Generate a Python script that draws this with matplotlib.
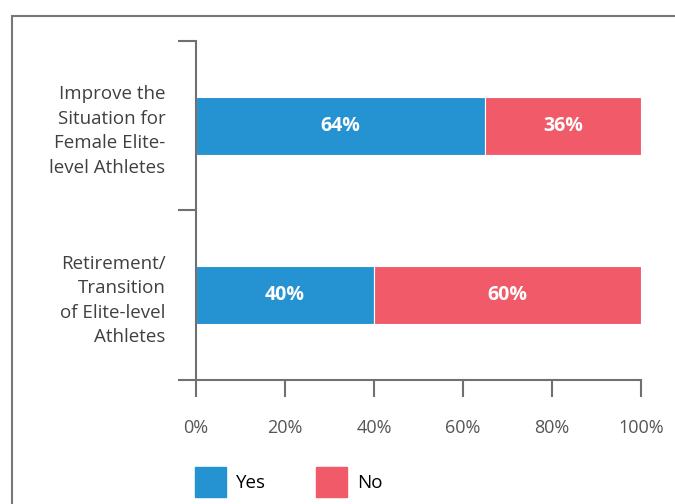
import matplotlib.pyplot as plt
from matplotlib.patches import Patch, Rectangle

categories = ['Improve the\nSituation for\nFemale Elite-\nlevel Athletes',
              'Retirement/\nTransition\nof Elite-level\nAthletes']
yes = [65, 40]
no = [35, 60]
yes_labels = ['64%', '40%']
no_labels = ['36%', '60%']
x_ticks = [0, 20, 40, 60, 80, 100]

blue = '#2592d2'
red = '#f05a69'
axis_grey = '#707070'

plt.rcParams['font.family'] = ['Open Sans', 'DejaVu Sans']

fig = plt.figure(figsize=(6.75, 5.04), dpi=100)
ax = fig.add_axes([196 / 675, 1 - 380 / 504, 445 / 675, 339 / 504])

pos = list(range(len(categories)))
ax.barh(pos, yes, height=0.34, color=blue, edgecolor='white', linewidth=0.8)
ax.barh(pos, no, left=yes, height=0.34, color=red, edgecolor='white', linewidth=0.8)

for i in pos:
    ax.text(yes[i] / 2, i, yes_labels[i], ha='center', va='center',
            color='white', fontsize=14, fontweight='bold')
    ax.text(yes[i] + no[i] / 2, i, no_labels[i], ha='center', va='center',
            color='white', fontsize=14, fontweight='bold')

ax.set_xlim(0, 100)
ax.set_ylim(1.5, -0.5)
ax.set_xticks(x_ticks)
ax.set_xticklabels([f'{t}%' for t in x_ticks])
ax.set_yticks([-0.5, 0.5, 1.5])
ax.set_yticklabels([])
ax.set_yticks(pos, minor=True)
ax.set_yticklabels(categories, minor=True, fontsize=13.5, color='#404040',
                   linespacing=1.47)

for side in ['top', 'right']:
    ax.spines[side].set_visible(False)
for side in ['left', 'bottom']:
    ax.spines[side].set_color(axis_grey)
    ax.spines[side].set_linewidth(1.5)

ax.tick_params(axis='x', length=12, width=1.5, color=axis_grey, pad=16,
               labelsize=13, labelcolor='#555555')
ax.tick_params(axis='y', which='major', length=13, width=1.5, color=axis_grey)
ax.tick_params(axis='y', which='minor', length=0, pad=22)

# outer frame, cut off at right and bottom
fig.add_artist(Rectangle((12 / 675, -0.1), 1.2, 1.1 - 16 / 504,
                         transform=fig.transFigure, fill=False,
                         edgecolor='#777777', linewidth=1.5))

handles = [Patch(color=blue, label='Yes'), Patch(color=red, label='No')]
fig.legend(handles=handles, loc='lower left',
           bbox_to_anchor=(195 / 675, 1 - 497 / 504), ncol=2, frameon=False,
           fontsize=13.5, handlelength=1.65, handleheight=2.1,
           handletextpad=0.55, columnspacing=2.67, borderpad=0, borderaxespad=0)

fig.savefig('out.png', dpi=100)
